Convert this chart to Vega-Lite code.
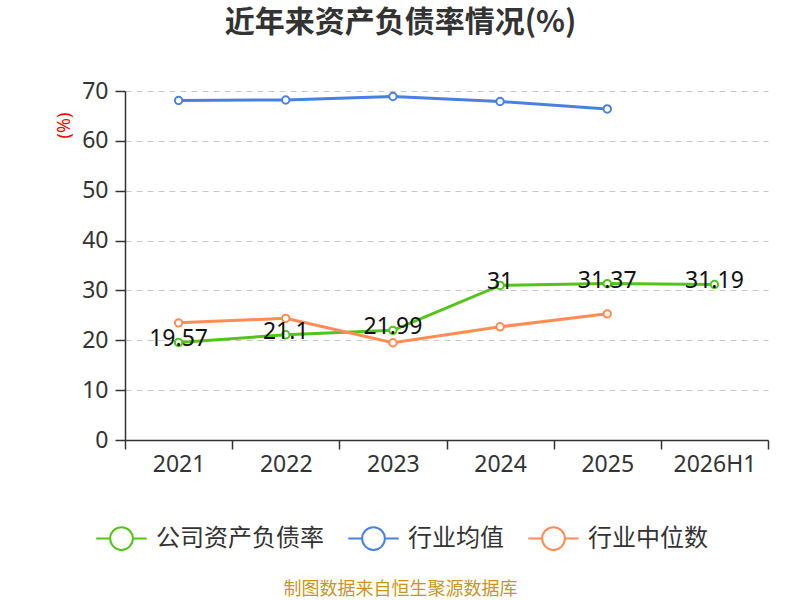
{
  "$schema": "https://vega.github.io/schema/vega-lite/v6.json",
  "autosize": {"type": "none"},
  "width": 643,
  "height": 349,
  "padding": {"left": 125, "top": 91, "right": 32, "bottom": 160},
  "background": "white",
  "config": {
    "font": "Noto Sans, Noto Sans CJK SC",
    "view": {"stroke": null}
  },
  "title": {
    "text": "近年来资产负债率情况(%)",
    "font": "Noto Sans CJK SC",
    "fontSize": 30,
    "fontWeight": "bold",
    "color": "#333333",
    "anchor": "middle",
    "frame": "group",
    "dx": -46,
    "offset": 42
  },
  "data": {
    "values": [
      {"year": "2021", "series": "公司资产负债率", "value": 19.57},
      {"year": "2022", "series": "公司资产负债率", "value": 21.1},
      {"year": "2023", "series": "公司资产负债率", "value": 21.99},
      {"year": "2024", "series": "公司资产负债率", "value": 31},
      {"year": "2025", "series": "公司资产负债率", "value": 31.37},
      {"year": "2026H1", "series": "公司资产负债率", "value": 31.19},
      {"year": "2021", "series": "行业均值", "value": 68.1},
      {"year": "2022", "series": "行业均值", "value": 68.2},
      {"year": "2023", "series": "行业均值", "value": 68.9},
      {"year": "2024", "series": "行业均值", "value": 67.9},
      {"year": "2025", "series": "行业均值", "value": 66.4},
      {"year": "2021", "series": "行业中位数", "value": 23.5},
      {"year": "2022", "series": "行业中位数", "value": 24.4},
      {"year": "2023", "series": "行业中位数", "value": 19.5},
      {"year": "2024", "series": "行业中位数", "value": 22.7},
      {"year": "2025", "series": "行业中位数", "value": 25.3}
    ]
  },
  "encoding": {
    "x": {
      "field": "year",
      "type": "nominal",
      "bandPosition": 0.5,
      "sort": ["2021", "2022", "2023", "2024", "2025", "2026H1"],
      "scale": {"type": "band", "paddingInner": 0, "paddingOuter": 0, "domain": ["2021", "2022", "2023", "2024", "2025", "2026H1"]},
      "axis": {
        "title": "制图数据来自恒生聚源数据库",
        "titleFont": "Noto Sans CJK SC",
        "titleColor": "#c8961e",
        "titleFontSize": 18,
        "titleFontWeight": "normal",
        "titleX": 275,
        "titleY": 149,
        "titleBaseline": "middle",
        "labelAngle": 0,
        "labelFontSize": 23,
        "labelColor": "#333333",
        "labelPadding": 4,
        "tickBand": "extent",
        "tickSize": 9,
        "tickColor": "#333333",
        "tickWidth": 1.5,
        "domainColor": "#333333",
        "domainWidth": 1.5,
        "grid": false
      }
    },
    "y": {
      "field": "value",
      "type": "quantitative",
      "scale": {"domain": [0, 70], "nice": false},
      "axis": {
        "title": "(%)",
        "titleColor": "#ff0000",
        "titleFontSize": 18,
        "titleFontWeight": "normal",
        "titleX": -61,
        "titleY": 34,
        "titleAngle": -90,
        "titleBaseline": "middle",
        "values": [0, 10, 20, 30, 40, 50, 60, 70],
        "labelFontSize": 23,
        "labelColor": "#333333",
        "labelPadding": 7,
        "tickSize": 10,
        "tickColor": "#333333",
        "tickWidth": 1.5,
        "domainColor": "#333333",
        "domainWidth": 1.5,
        "grid": true,
        "gridColor": "#c8c8c8",
        "gridDash": [6, 5],
        "gridWidth": 1.2
      }
    }
  },
  "layer": [
    {
      "mark": {
        "type": "line",
        "strokeWidth": 3,
        "point": {"filled": false, "fill": "white", "size": 55, "strokeWidth": 2}
      },
      "encoding": {
        "color": {
          "field": "series",
          "type": "nominal",
          "sort": ["公司资产负债率", "行业均值", "行业中位数"],
          "scale": {"domain": ["公司资产负债率", "行业均值", "行业中位数"], "range": ["#52c41a", "#4a80e0", "#ff8c55"]},
          "legend": {
            "title": null,
            "orient": "none",
            "direction": "horizontal",
            "legendX": -30,
            "legendY": 421,
            "labelFont": "Noto Sans CJK SC",
            "labelFontSize": 24,
            "labelLimit": 400,
            "labelColor": "#333333",
            "labelOffset": 8,
            "columnPadding": 20,
            "symbolType": "M-1,0L-0.45,0M0.45,0L1,0M0.45,0A0.45,0.45,0,1,1,-0.45,0A0.45,0.45,0,1,1,0.45,0Z",
            "symbolSize": 2550,
            "symbolStrokeWidth": 2,
            "symbolFillColor": "white",
            "encode": {"symbols": {"update": {"fill": {"value": "white"}, "strokeWidth": {"value": 2}}}}
          }
        }
      }
    },
    {
      "transform": [{"filter": "datum.series === '公司资产负债率'"}],
      "mark": {"type": "text", "fontSize": 23, "color": "#111111", "baseline": "middle", "dy": -3},
      "encoding": {
        "text": {"field": "value", "type": "quantitative"}
      }
    }
  ]
}
